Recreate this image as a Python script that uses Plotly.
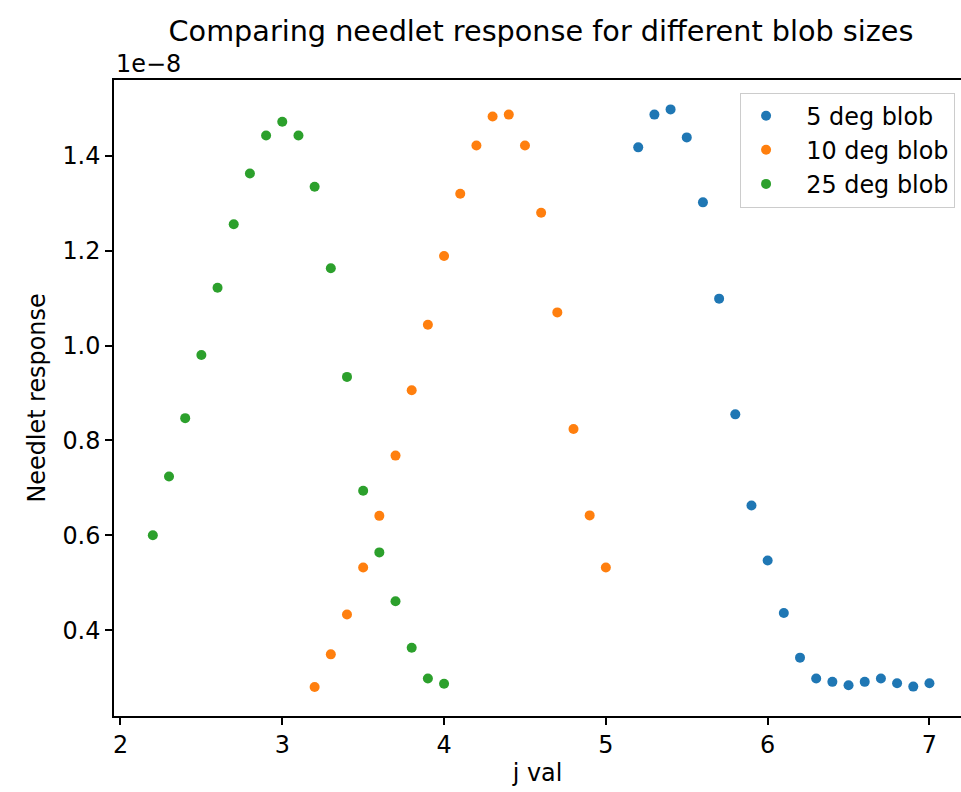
import plotly.graph_objects as go

# needlet scale j for each blob size
j_5deg = [5.2, 5.3, 5.4, 5.5, 5.6, 5.7, 5.8, 5.9, 6.0, 6.1,
          6.2, 6.3, 6.4, 6.5, 6.6, 6.7, 6.8, 6.9, 7.0]
j_10deg = [3.2, 3.3, 3.4, 3.5, 3.6, 3.7, 3.8, 3.9, 4.0, 4.1,
           4.2, 4.3, 4.4, 4.5, 4.6, 4.7, 4.8, 4.9, 5.0]
j_25deg = [2.2, 2.3, 2.4, 2.5, 2.6, 2.7, 2.8, 2.9, 3.0, 3.1,
           3.2, 3.3, 3.4, 3.5, 3.6, 3.7, 3.8, 3.9, 4.0]

# needlet response, in units of 1e-8
resp_5deg = [1.418, 1.487, 1.498, 1.439, 1.302, 1.099, 0.855, 0.663, 0.547, 0.436,
             0.342, 0.298, 0.291, 0.284, 0.291, 0.298, 0.288, 0.281, 0.288]
resp_10deg = [0.280, 0.349, 0.433, 0.532, 0.641, 0.768, 0.906, 1.044, 1.189, 1.320,
              1.422, 1.483, 1.487, 1.422, 1.280, 1.070, 0.824, 0.642, 0.532]
resp_25deg = [0.600, 0.724, 0.847, 0.980, 1.122, 1.256, 1.363, 1.443, 1.472, 1.443,
              1.335, 1.163, 0.934, 0.694, 0.564, 0.461, 0.363, 0.298, 0.287]

labels = ["5 deg blob", "10 deg blob", "25 deg blob"]
colors = ["#1f77b4", "#ff7f0e", "#2ca02c"]

x_ticks = [2, 3, 4, 5, 6, 7]
y_ticks = [0.4, 0.6, 0.8, 1.0, 1.2, 1.4]

FONT = "DejaVu Sans"
TEXT_SIZE = 23.9
TITLE_SIZE = 28.7
PAD = "\u00a0\u00a0"  # extra room between legend marker and label

fig = go.Figure()
for xs, ys, name, col in zip([j_5deg, j_10deg, j_25deg],
                             [resp_5deg, resp_10deg, resp_25deg],
                             labels, colors):
    fig.add_trace(go.Scatter(
        x=xs, y=ys, mode="markers", name=PAD + name, legendgroup=name,
        marker=dict(color=col, size=10, line=dict(width=0)),
    ))

axis_common = dict(
    showgrid=False, zeroline=False, showline=True, linecolor="black", linewidth=1.6,
    ticks="outside", ticklen=7, tickwidth=1.6, tickcolor="black",
    tickfont=dict(family=FONT, size=TEXT_SIZE, color="black"),
)

fig.update_xaxes(
    range=[1.96, 7.195], tickvals=x_ticks, mirror=True,
    title=dict(text="j val", font=dict(family=FONT, size=TEXT_SIZE, color="black"), standoff=6),
    **axis_common,
)
fig.update_yaxes(
    range=[0.219, 1.56], tickvals=y_ticks, tickformat=".1f",
    title=dict(text="Needlet response", font=dict(family=FONT, size=TEXT_SIZE, color="black"), standoff=10),
    **axis_common,
)

# offset text for the y axis
fig.add_annotation(
    text="1e\u22128", xref="paper", yref="paper", x=0, y=1, xanchor="left", yanchor="bottom",
    yshift=0, showarrow=False, font=dict(family=FONT, size=TEXT_SIZE, color="black"),
)

fig.update_layout(
    width=961, height=792,
    margin=dict(l=114, r=0, t=80, b=76),
    paper_bgcolor="white", plot_bgcolor="white",
    title=dict(text="Comparing needlet response for different blob sizes",
               x=541 / 961, xref="container", xanchor="center",
               y=1 - 31 / 792, yref="container", yanchor="middle",
               font=dict(family=FONT, size=TITLE_SIZE, color="black")),
    legend=dict(
        x=0.993, y=0.98, xanchor="right", yanchor="top",
        bgcolor="rgba(255,255,255,0.8)", bordercolor="#cccccc", borderwidth=1,
        font=dict(family=FONT, size=TEXT_SIZE, color="black"),
        tracegroupgap=0, itemwidth=40,
    ),
)

fig.write_html("out.html")
